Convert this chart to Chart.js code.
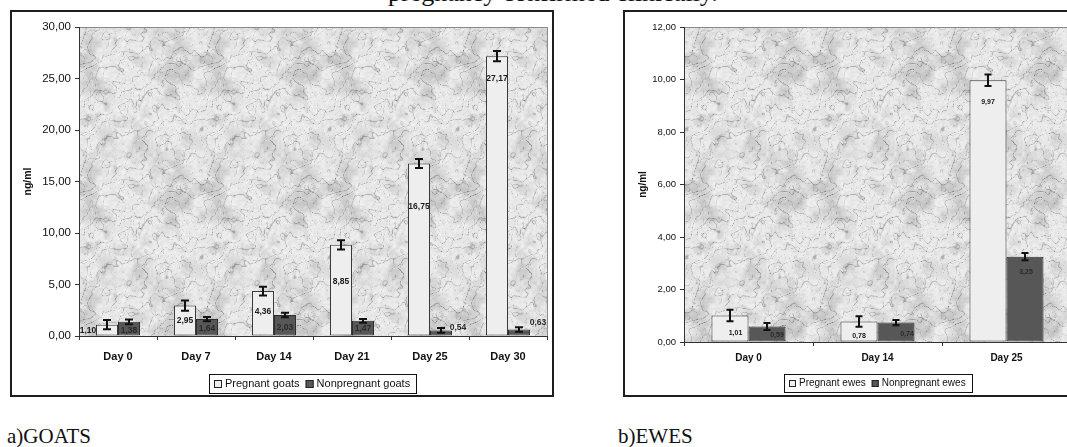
<!DOCTYPE html>
<html><head><meta charset="utf-8">
<script src="https://cdn.jsdelivr.net/npm/chart.js@4.4.1/dist/chart.umd.min.js"></script>
<style>
html,body{margin:0;padding:0;background:#fff;width:1067px;height:447px;overflow:hidden;position:relative;}
.frame{position:absolute;box-sizing:border-box;border:2px solid #1e1e1e;background:#fff;}
canvas{position:absolute;}
.txt{position:absolute;font-family:"Liberation Serif","Times New Roman",serif;color:#111;white-space:nowrap;}
</style></head>
<body>
<div class="txt" style="left:388px;top:-20px;font-size:26px;line-height:26px;">pregnancy confirmed clinically.</div>
<div class="frame" style="left:10px;top:10px;width:544px;height:387px;"></div>
<canvas id="goats" width="544" height="387" style="left:10px;top:10px"></canvas>
<div class="frame" style="left:623px;top:10px;width:455px;height:387px;"></div>
<canvas id="ewes" width="455" height="387" style="left:623px;top:10px"></canvas>
<div class="txt" style="left:7px;top:426px;font-size:21px;line-height:21px;">a)GOATS</div>
<div class="txt" style="left:618px;top:426px;font-size:21px;line-height:21px;">b)EWES</div>
<script>
// ---- data ----
const goatDays = ['Day 0', 'Day 7', 'Day 14', 'Day 21', 'Day 25', 'Day 30'];
const goatPregnant = [1.10, 2.95, 4.36, 8.85, 16.75, 27.17];
const goatNonpregnant = [1.38, 1.64, 2.03, 1.47, 0.54, 0.63];
const goatPregnantErr = [0.45, 0.49, 0.42, 0.44, 0.44, 0.49];
const goatNonpregnantErr = [0.23, 0.21, 0.22, 0.18, 0.23, 0.22];
const goatAxisMax = 30, goatAxisStep = 5;

const eweDays = ['Day 0', 'Day 14', 'Day 25'];
const ewePregnant = [1.01, 0.78, 9.97];
const eweNonpregnant = [0.59, 0.74, 3.25];
const ewePregnantErr = [0.22, 0.20, 0.22];
const eweNonpregnantErr = [0.13, 0.10, 0.14];
const eweAxisMax = 12, eweAxisStep = 2;

const fmt = v => v.toFixed(2).replace('.', ',');

// ---- marble texture (background only, deterministic) ----
function makeMarble() {
  const S = 128;
  const c = document.createElement('canvas'); c.width = S; c.height = S;
  const g = c.getContext('2d'); const img = g.createImageData(S, S);
  function h(i, j, s) { let n = (Math.imul(i, 374761393) + Math.imul(j, 668265263) + Math.imul(s, 2246822519)) | 0; n = Math.imul(n ^ (n >>> 13), 1274126177); n ^= n >>> 16; return (n >>> 0) / 4294967296; }
  function vn(x, y, p, s) {
    const xi = Math.floor(x), yi = Math.floor(y), fx = x - xi, fy = y - yi;
    const sx = fx * fx * (3 - 2 * fx), sy = fy * fy * (3 - 2 * fy);
    const w = a => ((a % p) + p) % p;
    const a = h(w(xi), w(yi), s), b = h(w(xi + 1), w(yi), s), cc = h(w(xi), w(yi + 1), s), d = h(w(xi + 1), w(yi + 1), s);
    return a + (b - a) * sx + (cc - a) * sy + (a - b - cc + d) * sx * sy;
  }
  function fbm(x, y, s, list) {
    let t = 0, amp = 1, tot = 0;
    for (const p of list) { t += amp * vn(x * p / S, y * p / S, p, s); tot += amp; amp *= 0.55; }
    return t / tot;
  }
  for (let y = 0; y < S; y++) for (let x = 0; x < S; x++) {
    const t = fbm(x, y, 1, [4, 8, 16, 32]);
    const t2 = fbm(x, y, 7, [8, 16, 32, 64]);
    const ph1 = 2 * Math.PI * (2 * x + 3 * y) / S + t * 16;
    const ph2 = 2 * Math.PI * (3 * x + 2 * y) / S + t2 * 14;
    const v1 = Math.pow(1 - Math.abs(Math.sin(ph1)), 9);
    const v2 = Math.pow(1 - Math.abs(Math.sin(ph2)), 12);
    const blot = Math.max(0, fbm(x, y, 3, [8, 16, 32]) - 0.45) * 2;
    const grain = vn(x * 64 / S, y * 64 / S, 64, 5);
    let v = 240 - 60 * v1 - 40 * v2 - 45 * blot - 14 * grain;
    v = Math.max(130, Math.min(246, v));
    const k = (y * S + x) * 4;
    img.data[k] = img.data[k + 1] = img.data[k + 2] = v; img.data[k + 3] = 255;
  }
  g.putImageData(img, 0, 0);
  return c;
}
const marble = makeMarble();

const extras = {
  id: 'extras',
  beforeDraw(chart, args, o) {
    const { ctx, chartArea: a } = chart;
    ctx.save();
    ctx.fillStyle = ctx.createPattern(marble, 'repeat');
    ctx.fillRect(a.left, a.top, a.right - a.left, a.bottom - a.top);
    ctx.strokeStyle = '#8a8a8a'; ctx.lineWidth = 1;
    ctx.strokeRect(Math.round(a.left) + 0.5, Math.round(a.top) + 0.5, Math.round(a.right - a.left), Math.round(a.bottom - a.top));
    ctx.restore();
  },
  afterDatasetsDraw(chart, args, o) {
    const { ctx } = chart; const ys = chart.scales.y;
    ctx.save();
    chart.data.datasets.forEach((ds, i) => {
      const meta = chart.getDatasetMeta(i);
      meta.data.forEach((bar, j) => {
        const v = ds.data[j], e = o.errors[i][j];
        const y1 = ys.getPixelForValue(v + e), y2 = ys.getPixelForValue(v - e);
        const x = Math.round(bar.x), cw = o.capWidth / 2;
        ctx.strokeStyle = '#111'; ctx.lineWidth = 2;
        ctx.beginPath();
        ctx.moveTo(x, y1); ctx.lineTo(x, y2);
        ctx.moveTo(x - cw, y1); ctx.lineTo(x + cw, y1);
        ctx.moveTo(x - cw, y2); ctx.lineTo(x + cw, y2);
        ctx.stroke();
      });
    });
    ctx.font = o.labelFont; ctx.textAlign = 'center'; ctx.textBaseline = 'middle';
    chart.data.datasets.forEach((ds, i) => {
      const meta = chart.getDatasetMeta(i);
      meta.data.forEach((bar, j) => {
        const off = o.labelOffsets[i][j];
        ctx.fillStyle = o.labelColors[i];
        ctx.fillText(fmt(ds.data[j]), bar.x + off[0], bar.y + off[1]);
      });
    });
    ctx.restore();
  },
  afterDraw(chart, args, o) {
    const { ctx, chartArea: a } = chart; const L = o.legend;
    ctx.save();
    ctx.font = L.font;
    const items = chart.data.datasets.map(ds => ({ t: ds.label, f: ds.backgroundColor, w: ctx.measureText(ds.label).width }));
    let total = L.padL + L.padR;
    items.forEach((it, k) => { total += L.box + L.gap + it.w + (k ? L.between : 0); });
    const x0 = Math.round((a.left + a.right) / 2 - total / 2);
    ctx.fillStyle = '#fff'; ctx.fillRect(x0, L.y, total, L.h);
    ctx.strokeStyle = '#111'; ctx.lineWidth = 1;
    ctx.strokeRect(x0 + 0.5, L.y + 0.5, Math.round(total), L.h);
    let x = x0 + L.padL; const cy = L.y + L.h / 2;
    ctx.textAlign = 'left'; ctx.textBaseline = 'middle';
    items.forEach((it, k) => {
      if (k) x += L.between;
      ctx.fillStyle = it.f; ctx.fillRect(x, Math.round(cy - L.box / 2), L.box, L.box);
      ctx.strokeStyle = '#222'; ctx.strokeRect(x + 0.5, Math.round(cy - L.box / 2) + 0.5, L.box - 1, L.box - 1);
      x += L.box + L.gap;
      ctx.fillStyle = '#111'; ctx.fillText(it.t, x, cy + 0.5);
      x += it.w;
    });
    ctx.restore();
  }
};

function build(id, cfg) {
  return new Chart(document.getElementById(id), {
    type: 'bar',
    data: {
      labels: cfg.labels,
      datasets: [
        { label: cfg.names[0], data: cfg.preg, backgroundColor: '#eeeeee', borderColor: '#3a3a3a', borderWidth: 1, borderSkipped: false, barPercentage: 1, categoryPercentage: cfg.catPct },
        { label: cfg.names[1], data: cfg.nonpreg, backgroundColor: '#575757', borderColor: '#2e2e2e', borderWidth: 1, borderSkipped: false, barPercentage: 1, categoryPercentage: cfg.catPct }
      ]
    },
    options: {
      responsive: false, animation: false, events: [],
      layout: { padding: { left: 0, top: 17, right: 7, bottom: cfg.padBottom } },
      scales: {
        x: {
          grid: { offset: true, drawOnChartArea: false, tickLength: 4, color: '#333' },
          border: { display: true, color: '#333', width: 1 },
          ticks: { color: '#111', font: { family: 'Arial, "Liberation Sans", sans-serif', size: cfg.xFont, weight: 'bold' }, padding: cfg.xPad, maxRotation: 0 },
          afterFit: s => { s.height = cfg.xHeight; }
        },
        y: {
          min: 0, max: cfg.max,
          grid: { drawOnChartArea: false, tickLength: 4, color: '#333' },
          border: { display: true, color: '#333', width: 1 },
          ticks: { stepSize: cfg.step, color: '#111', padding: 4, font: { family: 'Arial, "Liberation Sans", sans-serif', size: cfg.yFont }, callback: v => fmt(v) },
          title: { display: true, text: 'ng/ml', color: '#111', font: { family: 'Arial, "Liberation Sans", sans-serif', size: cfg.titleFont, weight: 'bold' }, padding: { top: cfg.titlePad, bottom: 0 } },
          afterFit: s => { s.width = cfg.yWidth; }
        }
      },
      plugins: {
        legend: { display: false }, tooltip: { enabled: false },
        extras: {
          errors: [cfg.pregErr, cfg.nonErr],
          capWidth: cfg.cap,
          labelFont: cfg.labelFont,
          labelColors: ['#1a1a1a', '#2a2a2a'],
          labelOffsets: cfg.labelOffsets,
          legend: cfg.legend
        }
      }
    },
    plugins: [extras]
  });
}

build('goats', {
  labels: goatDays, names: ['Pregnant goats', 'Nonpregnant goats'],
  preg: goatPregnant, nonpreg: goatNonpregnant, pregErr: goatPregnantErr, nonErr: goatNonpregnantErr,
  max: goatAxisMax, step: goatAxisStep, catPct: 0.564, padBottom: 16, xHeight: 45, xPad: 10, xFont: 11, yFont: 11.5,
  titleFont: 10.5, titlePad: 12, yWidth: 69, cap: 8, labelFont: 'bold 8.5px Arial, "Liberation Sans", sans-serif',
  labelOffsets: [
    [[-19, 6], [0, 15], [0, 20.5], [0, 37], [0, 43.5], [0, 23]],
    [[0, 9], [0, 10], [0, 13], [0, 7.5], [17, -2.5], [19, -7]]
  ],
  legend: { y: 364, h: 19, font: '11px Arial, "Liberation Sans", sans-serif', box: 8, gap: 3, between: 6, padL: 5, padR: 6 }
});

build('ewes', {
  labels: eweDays, names: ['Pregnant ewes', 'Nonpregnant ewes'],
  preg: ewePregnant, nonpreg: eweNonpregnant, pregErr: ewePregnantErr, nonErr: eweNonpregnantErr,
  max: eweAxisMax, step: eweAxisStep, catPct: 0.574, padBottom: 10, xHeight: 45, xPad: 6, xFont: 10, yFont: 9.5,
  titleFont: 10, titlePad: 14, yWidth: 61, cap: 7, labelFont: 'bold 7px Arial, "Liberation Sans", sans-serif',
  labelOffsets: [
    [[5.5, 18], [0, 15], [0, 22]],
    [[10, 8.5], [11, 11], [1, 15.5]]
  ],
  legend: { y: 364, h: 18, font: '10px Arial, "Liberation Sans", sans-serif', box: 7, gap: 3, between: 6, padL: 5, padR: 6 }
});
</script>
</body></html>
